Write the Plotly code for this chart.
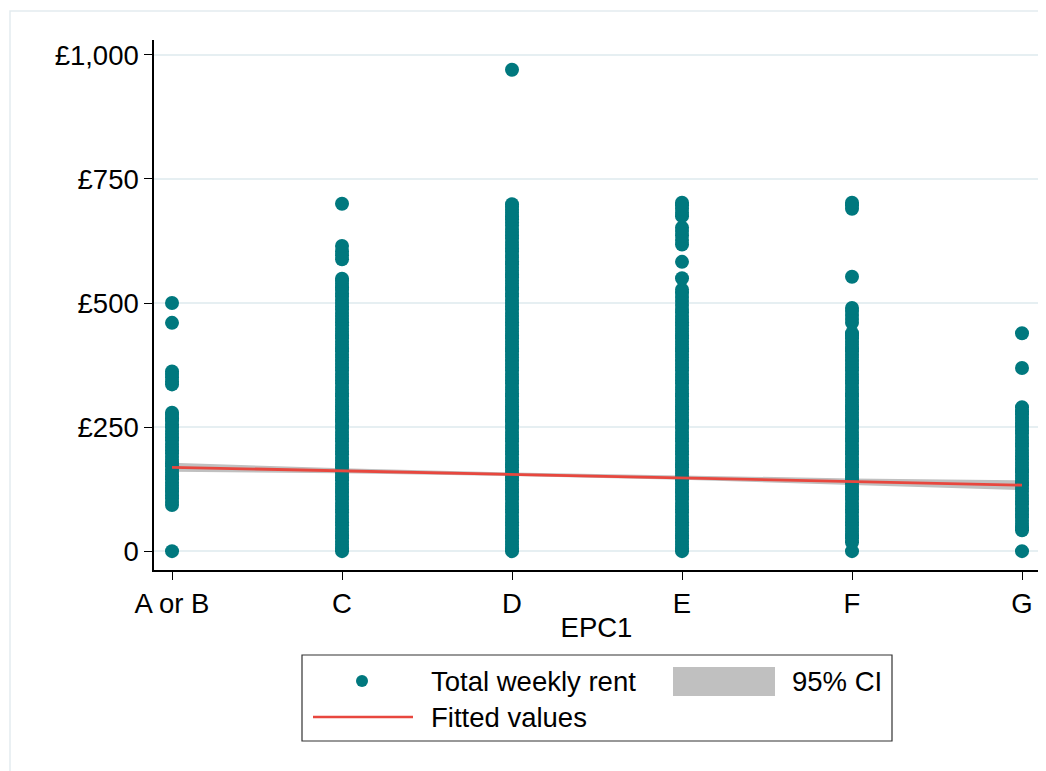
import plotly.graph_objects as go

# ---------------- data ----------------
categories = ["A or B", "C", "D", "E", "F", "G"]

rent_a_or_b = [0, 93, 99, 106, 112, 119, 125, 132, 138, 145, 151, 158, 164, 171,
               177, 184, 190, 197, 203, 210, 216, 223, 229, 236, 242, 249, 255,
               262, 268, 275, 279, 336, 342, 350, 357, 362, 460, 500]
rent_c = [0, 6, 13, 19, 26, 32, 39, 45, 52, 58, 65, 71, 78, 84, 91, 97, 104, 110,
          117, 123, 130, 136, 143, 149, 156, 162, 169, 175, 182, 188, 195, 201,
          208, 214, 221, 227, 234, 240, 247, 253, 260, 266, 273, 279, 286, 292,
          299, 305, 312, 318, 325, 331, 338, 344, 351, 357, 364, 370, 377, 383,
          390, 396, 403, 409, 416, 422, 429, 435, 442, 448, 455, 461, 468, 474,
          480, 487, 493, 500, 506, 513, 519, 526, 532, 539, 545, 549,
          588, 596, 604, 615, 700]
rent_d = [0, 6, 13, 19, 26, 32, 39, 45, 52, 58, 65, 71, 78, 84, 91, 97, 104, 110,
          117, 123, 130, 136, 143, 149, 156, 162, 169, 175, 182, 188, 195, 201,
          208, 214, 221, 227, 234, 240, 247, 253, 260, 266, 273, 279, 286, 292,
          299, 305, 312, 318, 325, 331, 338, 344, 351, 357, 364, 370, 377, 383,
          390, 396, 403, 409, 416, 422, 429, 435, 442, 448, 455, 461, 468, 474,
          480, 487, 493, 500, 506, 513, 519, 526, 532, 539, 545, 552, 558, 565,
          571, 578, 584, 591, 597, 604, 610, 617, 623, 630, 636, 643, 649, 656,
          662, 669, 675, 682, 688, 694, 699, 970]
rent_e = [0, 6, 13, 19, 26, 32, 39, 45, 52, 58, 65, 71, 78, 84, 91, 97, 104, 110,
          117, 123, 130, 136, 143, 149, 156, 162, 169, 175, 182, 188, 195, 201,
          208, 214, 221, 227, 234, 240, 247, 253, 260, 266, 273, 279, 286, 292,
          299, 305, 312, 318, 325, 331, 338, 344, 351, 357, 364, 370, 377, 383,
          390, 396, 403, 409, 416, 422, 429, 435, 442, 448, 455, 461, 468, 474,
          481, 488, 496, 504, 512, 520, 527, 550, 583, 618, 627, 636, 645, 652,
          675, 682, 690, 697, 702]
rent_f = [0, 18, 26, 32, 39, 45, 52, 58, 65, 71, 78, 84, 91, 97, 104, 110,
          117, 123, 130, 136, 143, 149, 156, 162, 169, 175, 182, 188, 195, 201,
          208, 214, 221, 227, 234, 240, 247, 253, 260, 266, 273, 279, 286, 292,
          299, 305, 312, 318, 325, 331, 338, 344, 351, 357, 364, 370, 377, 383,
          390, 396, 403, 409, 416, 422, 429, 435, 439, 460, 468, 476, 484, 490,
          553, 690, 697, 702]
rent_g = [0, 42, 48, 55, 61, 68, 74, 81, 87, 94, 100, 107, 113, 120, 126, 133,
          139, 146, 152, 159, 165, 172, 178, 185, 191, 198, 204, 211, 217, 224,
          230, 237, 243, 250, 256, 263, 269, 276, 282, 290, 369, 439]

fitted = [169, 162, 155, 148, 140, 133]
ci_lower = [160, 157, 151.5, 144, 133.5, 123]
ci_upper = [178, 167, 158.5, 152, 146.5, 143]

y_tickvals = [0, 250, 500, 750, 1000]
y_ticktext = ["0", "£250", "£500", "£750", "£1,000"]

# ---------------- build ----------------
per_cat = [rent_a_or_b, rent_c, rent_d, rent_e, rent_f, rent_g]
xs, ys = [], []
for cat, vals in zip(categories, per_cat):
    xs += [cat] * len(vals)
    ys += vals

TEAL = "#00787e"
RED = "#e8473e"
GREY = "#c0c0c0"
GRID = "#e6eff2"
FONT = "Liberation Sans, Arial, sans-serif"
FS = 27.5

fig = go.Figure()
fig.add_trace(go.Scatter(x=categories, y=ci_lower, mode="lines",
                         line=dict(width=0, color=GREY), showlegend=False,
                         hoverinfo="skip"))
fig.add_trace(go.Scatter(x=categories, y=ci_upper, mode="lines",
                         line=dict(width=0, color=GREY), fill="tonexty",
                         fillcolor=GREY, name="95% CI", showlegend=False))
fig.add_trace(go.Scatter(x=xs, y=ys, mode="markers",
                         marker=dict(color=TEAL, size=14, line=dict(width=0)),
                         name="Total weekly rent", showlegend=False))
fig.add_trace(go.Scatter(x=categories, y=fitted, mode="lines",
                         line=dict(color=RED, width=2.8),
                         name="Fitted values", showlegend=False))

# page is offset by 8px body margin
OFF = 8
W, H = 1046, 771
L, R, T, B = 154 - OFF, 1039 - OFF, 40 - OFF, 570 - OFF


def px(x):
    return (x - OFF - L) / (R - L)


def py(y):
    return (B - (y - OFF)) / (B - T)


shapes = []
annotations = []
# outer frame
shapes.append(dict(type="rect", xref="paper", yref="paper",
                   x0=px(10), x1=px(1080), y0=py(11), y1=py(800),
                   line=dict(color="#e3ebef", width=1.5), layer="below"))
# legend box
shapes.append(dict(type="rect", xref="paper", yref="paper",
                   x0=px(302), x1=px(892), y0=py(655), y1=py(741),
                   line=dict(color="#333333", width=1.2), fillcolor="white"))
# legend marker
shapes.append(dict(type="circle", xref="paper", yref="paper",
                   x0=px(356), x1=px(368), y0=py(675), y1=py(687),
                   fillcolor=TEAL, line=dict(width=0)))
# legend CI rect
shapes.append(dict(type="rect", xref="paper", yref="paper",
                   x0=px(673), x1=px(775), y0=py(667), y1=py(696),
                   fillcolor=GREY, line=dict(width=0)))
# legend red line
shapes.append(dict(type="line", xref="paper", yref="paper",
                   x0=px(313), x1=px(413), y0=py(717), y1=py(717),
                   line=dict(color=RED, width=2.5)))
for txt, x, y in [("Total weekly rent", 429, 681), ("95% CI", 790, 681),
                  ("Fitted values", 429, 717)]:
    annotations.append(dict(text=txt, xref="paper", yref="paper",
                            x=px(x), y=py(y), xanchor="left", yanchor="middle",
                            showarrow=False,
                            font=dict(family=FONT, size=FS, color="black")))

fig.update_layout(
    width=W, height=H,
    margin=dict(l=L, r=W - R, t=T, b=H - B, pad=0),
    paper_bgcolor="white", plot_bgcolor="white",
    font=dict(family=FONT, size=FS, color="black"),
    showlegend=False,
    shapes=shapes, annotations=annotations,
    xaxis=dict(type="category", categoryorder="array", categoryarray=categories,
               range=[-0.106, 5.1], showgrid=False, zeroline=False,
               showline=True, linecolor="black", linewidth=1.5,
               ticks="outside", ticklen=8, tickwidth=1.2, tickcolor="black",
               tickfont=dict(size=FS),
               title=dict(text="EPC1", font=dict(size=FS), standoff=0)),
    yaxis=dict(range=[-38, 1030], tickvals=y_tickvals, ticktext=y_ticktext,
               showgrid=True, gridcolor=GRID, gridwidth=2, zeroline=False,
               showline=True, linecolor="black", linewidth=1.5,
               ticks="outside", ticklen=8, tickwidth=1.2, tickcolor="black",
               tickfont=dict(size=FS)),
)

fig.write_html("out.html")
